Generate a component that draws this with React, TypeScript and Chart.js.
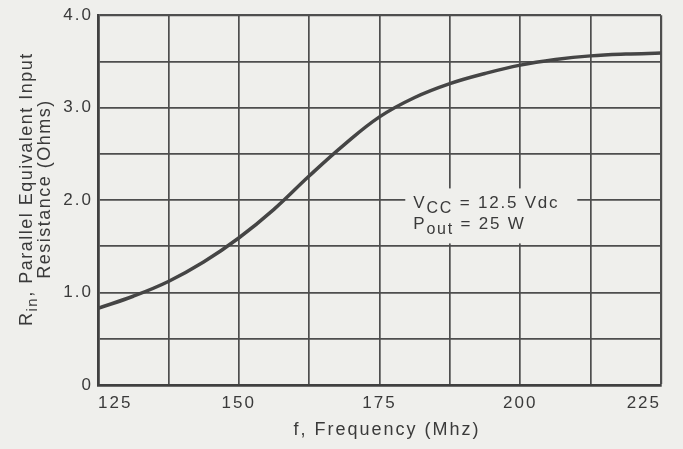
import React, { useEffect, useRef } from 'react';
import { Chart, registerables } from 'chart.js';

Chart.register(...registerables);

// ---- data ----
const FREQ = [125, 131.25, 137.5, 143.75, 150, 156.25, 162.5, 168.75, 175, 181.25, 187.5, 193.75, 200, 206.25, 212.5, 218.75, 225];
const RIN = [0.83, 0.96, 1.12, 1.33, 1.59, 1.9, 2.26, 2.6, 2.9, 3.11, 3.26, 3.37, 3.46, 3.52, 3.56, 3.58, 3.59];
const X_TICK_LABELS = ['125', '150', '175', '200', '225'];
const Y_TICK_LABELS = ['0', '1.0', '2.0', '3.0', '4.0'];
const Y_TITLE_1 = [{ t: 'R' }, { t: 'in', sub: true }, { t: ', Parallel Equivalent Input' }];
const Y_TITLE_2 = [{ t: 'Resistance (Ohms)' }];
const X_TITLE = [{ t: 'f, Frequency (Mhz)' }];
const NOTE_1 = [{ t: 'V' }, { t: 'CC', sub: true }, { t: ' = 12.5 Vdc' }];
const NOTE_2 = [{ t: 'P' }, { t: 'out', sub: true }, { t: ' = 25 W' }];

const FONT = '"Liberation Sans", Arial, sans-serif';
const TEXT = '#3a3a3a';
const GRID = '#4e4e4e';
const BG = '#efefec';

type Part = { t: string; sub?: boolean };

function setFont(ctx: CanvasRenderingContext2D, size: number, spacing: number) {
  ctx.font = `${size}px ${FONT}`;
  (ctx as any).letterSpacing = spacing + 'px';
}

function measureRich(ctx: CanvasRenderingContext2D, parts: Part[], size: number, sub: number, spacing: number) {
  let w = 0;
  for (const p of parts) {
    setFont(ctx, p.sub ? sub : size, spacing);
    w += ctx.measureText(p.t).width;
  }
  return w;
}

function drawRich(ctx: CanvasRenderingContext2D, parts: Part[], x: number, y: number, size: number, sub: number, drop: number, spacing: number) {
  let cx = x;
  ctx.textAlign = 'left';
  ctx.textBaseline = 'alphabetic';
  for (const p of parts) {
    setFont(ctx, p.sub ? sub : size, spacing);
    ctx.fillText(p.t, cx, y + (p.sub ? drop : 0));
    cx += ctx.measureText(p.t).width;
  }
}

const textPlugin = {
  id: 'textPlugin',
  beforeDraw(chart: any) {
    const { ctx, width, height } = chart;
    ctx.save();
    ctx.fillStyle = BG;
    ctx.fillRect(0, 0, width, height);
    ctx.restore();
    // wider letter spacing for the tick labels, like the scanned lettering
    (ctx as any).letterSpacing = '2px';
  },
  afterDraw(chart: any) {
    const { ctx, chartArea } = chart;
    const xs = chart.scales.x;
    const ys = chart.scales.y;
    ctx.save();
    // annotation box
    const nx = xs.getPixelForValue(181);
    const ny = ys.getPixelForValue(1.91);
    ctx.fillStyle = BG;
    ctx.fillRect(nx - 8, ny - 20, 172, 55);
    ctx.fillStyle = TEXT;
    drawRich(ctx, NOTE_1, nx, ny, 17, 16, 5, 1.8);
    drawRich(ctx, NOTE_2, nx, ny + 21, 17, 16, 5, 1.8);

    // y title
    const cy = (chartArea.top + chartArea.bottom) / 2 - 11;
    const lines = [
      { parts: Y_TITLE_1, bx: 32 },
      { parts: Y_TITLE_2, bx: 50 },
    ];
    for (const l of lines) {
      const w = measureRich(ctx, l.parts, 18, 15, 1.5);
      ctx.save();
      ctx.translate(l.bx, cy);
      ctx.rotate(-Math.PI / 2);
      drawRich(ctx, l.parts, -w / 2, 0, 18, 15, 5, 1.5);
      ctx.restore();
    }
    // x title
    const wx = measureRich(ctx, X_TITLE, 18, 15, 2);
    drawRich(ctx, X_TITLE, 387 - wx / 2, 435, 18, 15, 5, 2);
    ctx.restore();
    (ctx as any).letterSpacing = '0px';
  },
};

export default function App() {
  const ref = useRef<HTMLCanvasElement | null>(null);
  useEffect(() => {
    if (!ref.current) return;
    const chart = new Chart(ref.current, {
      type: 'line',
      data: {
        datasets: [
          {
            data: FREQ.map((f, i) => ({ x: f, y: RIN[i] })),
            borderColor: '#454545',
            borderWidth: 3.5,
            pointRadius: 0,
            tension: 0.4,
            fill: false,
          },
        ],
      },
      options: {
        animation: false,
        responsive: true,
        maintainAspectRatio: false,
        layout: { padding: { left: 0, top: 13, right: 22, bottom: 0 } },
        plugins: { legend: { display: false }, tooltip: { enabled: false } },
        scales: {
          x: {
            type: 'linear',
            min: 125,
            max: 225,
            afterFit: (s: any) => { s.height = 64; },
            ticks: {
              stepSize: 12.5,
              autoSkip: false,
              maxRotation: 0,
              align: 'inner',
              padding: 8,
              color: TEXT,
              font: { family: FONT, size: 17 },
              callback: (v: any) => (X_TICK_LABELS.includes(String(v)) ? String(v) : ''),
            },
            grid: {
              color: GRID,
              lineWidth: (c: any) => (c.tick && c.tick.value === 225 ? 2.2 : 1.7),
              drawTicks: false,
            },
            border: { color: '#404040', width: 2.8 },
          },
          y: {
            min: 0,
            max: 4,
            afterFit: (s: any) => { s.width = 98; },
            ticks: {
              stepSize: 0.5,
              autoSkip: false,
              padding: 5,
              color: TEXT,
              font: { family: FONT, size: 17 },
              callback: (v: any) => {
                const s = v === 0 ? '0' : Number(v).toFixed(1);
                return Y_TICK_LABELS.includes(s) ? s : '';
              },
            },
            grid: {
              color: GRID,
              lineWidth: (c: any) => (c.tick && c.tick.value === 4 ? 2.2 : 1.7),
              drawTicks: false,
            },
            border: { color: '#404040', width: 2.8 },
          },
        },
      },
      plugins: [textPlugin],
    } as any);
    return () => chart.destroy();
  }, []);
  return (
    <div style={{ position: 'absolute', left: 0, top: 0, width: 683, height: 449 }}>
      <canvas ref={ref} />
    </div>
  );
}
